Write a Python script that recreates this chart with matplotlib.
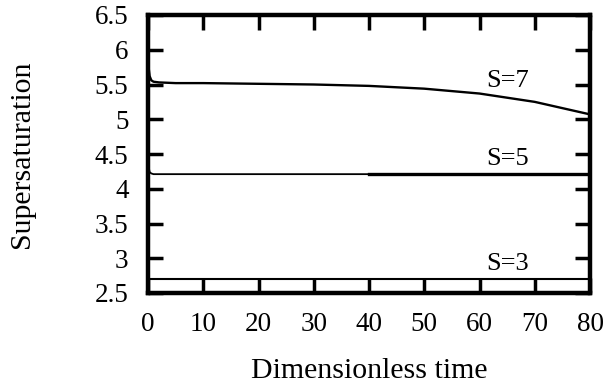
'''
supersaturation vs dimensionless time for three initial values
'''
import matplotlib
matplotlib.use('Agg')
import matplotlib.pyplot as plt

# S=7 curve
t7 = [0, 0.1, 0.3, 0.6, 1, 2, 5, 10, 20, 30, 40, 50, 60, 70, 80]
s7 = [5.95, 5.75, 5.62, 5.56, 5.54, 5.53, 5.52, 5.52, 5.51, 5.50, 5.48, 5.44, 5.37, 5.25, 5.07]

# S=5 curve (thin first half, heavier second half)
t5a = [0, 0.1, 0.3, 0.6, 1, 10, 20, 30, 40]
s5a = [4.55, 4.32, 4.24, 4.22, 4.21, 4.21, 4.21, 4.21, 4.21]
t5b = [40, 50, 60, 70, 80]
s5b = [4.21, 4.21, 4.21, 4.21, 4.21]

# S=3 curve
t3 = [0, 10, 20, 30, 40, 50, 60, 70, 80]
s3 = [2.70, 2.70, 2.70, 2.70, 2.70, 2.70, 2.70, 2.70, 2.70]

labels = ['S=7', 'S=5', 'S=3']
label_pos = [(65, 5.46), (65, 4.34), (65, 2.83)]

xticks = [0, 10, 20, 30, 40, 50, 60, 70, 80]
yticks = [2.5, 3, 3.5, 4, 4.5, 5, 5.5, 6, 6.5]

plt.rcParams['font.family'] = ['Liberation Serif', 'DejaVu Serif']

fig = plt.figure(figsize=(6.1, 3.9), dpi=100)
ax = fig.add_axes([148 / 610, 1 - 293 / 390, 442 / 610, 278 / 390])

ax.plot(t7, s7, color='black', lw=1.7)
ax.plot(t5a, s5a, color='black', lw=1.3)
ax.plot(t5b, s5b, color='black', lw=2.4)
ax.plot(t3, s3, color='black', lw=1.5)

for lab, (x, y) in zip(labels, label_pos):
  ax.text(x, y, lab, fontsize=19, ha='center', va='baseline')

ax.set_xlim(0, 80)
ax.set_ylim(2.5, 6.5)
ax.set_xticks(xticks)
ax.set_xticklabels([str(v) for v in xticks])
ax.set_yticks(yticks)
ax.set_yticklabels(['%g' % v for v in yticks])

for sp in ax.spines.values():
  sp.set_linewidth(3.2)
ax.tick_params(direction='in', length=11, width=2.5, top=True, right=True,
               labelsize=19.5)
ax.tick_params(axis='x', pad=14)
ax.tick_params(axis='y', pad=14)

ax.set_xlabel('Dimensionless time', fontsize=21.5, labelpad=15)
ax.set_ylabel('Supersaturation', fontsize=21.5, labelpad=43)

fig.savefig('out.png', dpi=100)
